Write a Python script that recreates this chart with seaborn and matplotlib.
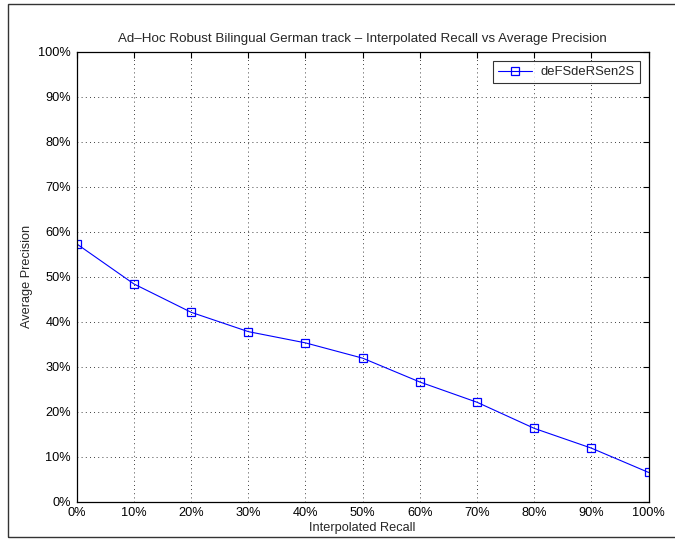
import numpy as np
import pandas as pd
import matplotlib
matplotlib.use('Agg')
import matplotlib.pyplot as plt
import seaborn as sns
from matplotlib.patches import Rectangle
from matplotlib.ticker import PercentFormatter

sns.set_theme(style='white')
plt.rcParams['font.family'] = ['Liberation Sans', 'DejaVu Sans']

# 데이터
recall = [0, 10, 20, 30, 40, 50, 60, 70, 80, 90, 100]
precision = [57.3, 48.4, 42.1, 37.8, 35.3, 31.9, 26.6, 22.1, 16.3, 11.9, 6.5]
run_name = 'deFSdeRSen2S'

df = pd.DataFrame({'recall': recall, 'precision': precision})

fig = plt.figure(figsize=(6.75, 5.41), dpi=100)
ax = fig.add_axes([0.1136, 0.0726, 0.8474, 0.8318])

sns.lineplot(data=df, x='recall', y='precision', ax=ax, color='#0000ff',
             marker='s', markersize=5.5, markerfacecolor='none',
             markeredgecolor='#0000ff', markeredgewidth=0.9,
             linewidth=0.8, label=run_name)

ax.set_xlim(0, 100)
ax.set_ylim(0, 100)
ax.set_xticks(np.arange(0, 101, 10))
ax.set_yticks(np.arange(0, 101, 10))
ax.xaxis.set_major_formatter(PercentFormatter(decimals=0))
ax.yaxis.set_major_formatter(PercentFormatter(decimals=0))
ax.tick_params(direction='in', length=4, width=0.8, labelsize=9.2,
               top=True, right=True, colors='black', pad=4)
ax.grid(True, color='black', linestyle=(0, (1, 4)), linewidth=0.6)
for s in ax.spines.values():
    s.set_color('black')
    s.set_linewidth(0.9)

ax.set_title('Ad\u2013Hoc Robust Bilingual German track \u2013 Interpolated Recall vs Average Precision',
             fontsize=9.6, pad=7)
ax.set_xlabel('Interpolated Recall', fontsize=9.2, labelpad=2)
ax.set_ylabel('Average Precision', fontsize=9.2, labelpad=4)

leg = ax.legend(loc='upper right', fontsize=9.4, frameon=True, fancybox=False,
                borderpad=0.4, handlelength=2.6, handletextpad=0.6, borderaxespad=0.7)
leg.get_frame().set_edgecolor('black')
leg.get_frame().set_linewidth(0.8)

# 바깥 테두리
fig.patches.append(Rectangle((8/675, 4/541), 1.0, 533/541, transform=fig.transFigure,
                             fill=False, edgecolor='#333333', linewidth=1.0))

fig.savefig('out.png', dpi=100)
